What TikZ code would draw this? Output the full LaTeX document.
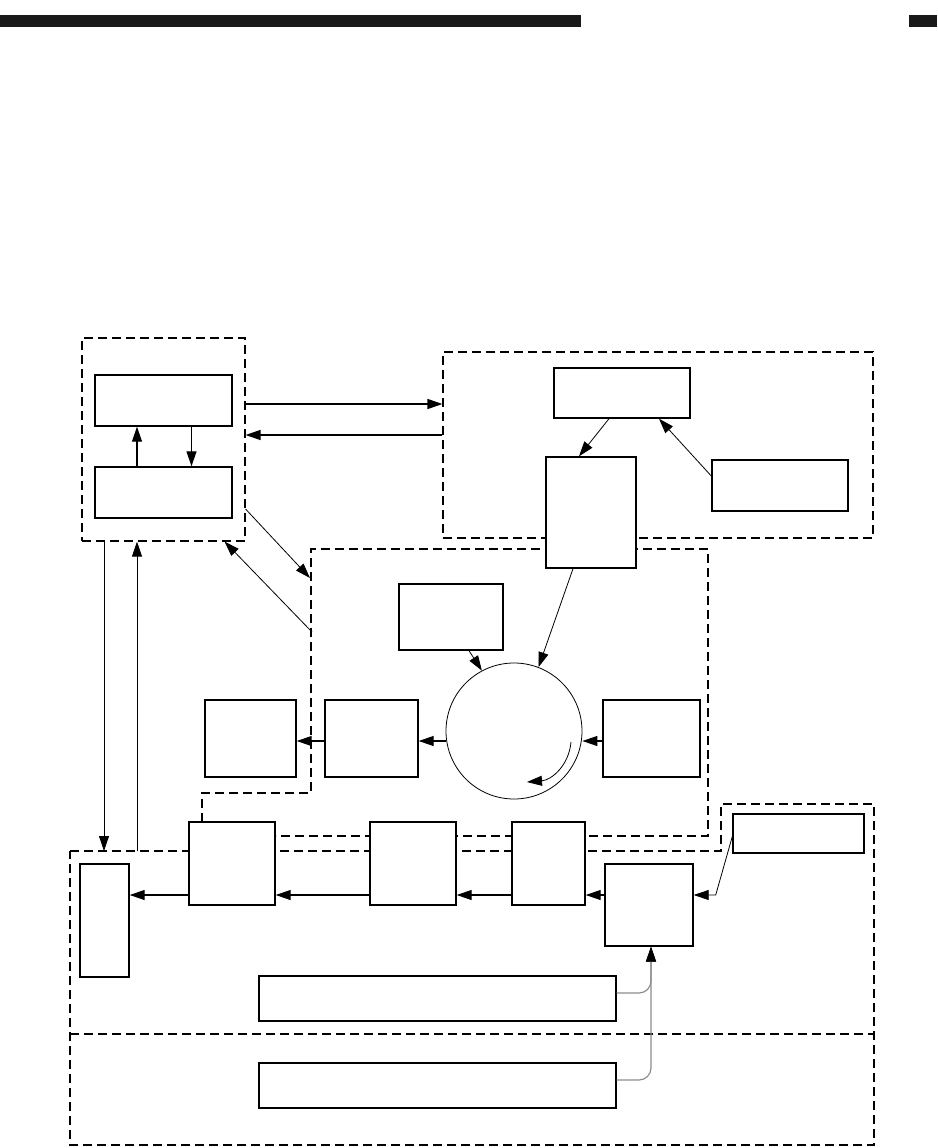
\documentclass[tikz,border=0pt]{standalone}
\usetikzlibrary{arrows.meta,positioning}
\tikzset{
  blk/.style={draw,line width=1.4pt,fill=white,inner sep=0pt},
  grp/.style={draw,line width=1.1pt,dash pattern=on 9pt off 5pt},
  arr/.style={-{Triangle[length=15pt,width=10pt]},line width=1.2pt},
  thin arr/.style={-{Triangle[length=15pt,width=10pt]},line width=0.8pt},
  feed/.style={-{Triangle[length=15pt,width=10pt,color=black]},line width=1.2pt,
    draw=black!45,rounded corners=12pt}
}
\begin{document}
\begin{tikzpicture}[x=1pt,y=-1pt]
  \useasboundingbox (0,0) rectangle (937,1148);
  % Header bars
  \fill[black!90] (0,15) rectangle (581,27);
  \fill[black!90] (909,15) rectangle (937,27);

  % Dashed groups
  \node[grp,minimum width=163pt,minimum height=203pt] (grpL) at (163.5,439.5) {};
  \node[grp,minimum width=430pt,minimum height=186pt] (grpR) at (658,445) {};
  \draw[grp] (202,822) -- (202,793) -- (311,793) -- (311,549) -- (708,549)
    -- (708,836) -- (276,836);
  \draw[grp] (70,851) -- (721,851) -- (721,804) -- (874,804) -- (874,1145)
    -- (70,1145) -- cycle;
  \draw[grp] (70,1034) -- (874,1034);

  % Left group
  \node[blk,minimum width=137pt,minimum height=51pt] (ctrA) at (163.5,400.5) {};
  \node[blk,minimum width=137pt,minimum height=51pt] (ctrB) at (163.5,492.5) {};
  % Upper right group
  \node[blk,minimum width=136pt,minimum height=50pt] (srcC) at (622,393) {};
  \node[blk,minimum width=90pt,minimum height=111pt] (srcD) at (591,512.5) {};
  \node[blk,minimum width=136pt,minimum height=51pt] (srcE) at (780,485.5) {};
  % Drum group
  \node[draw,circle,line width=0.8pt,minimum size=136pt] (drum) at (514,731) {};
  \node[blk,minimum width=104pt,minimum height=66pt] (drmS) at (451,617) {};
  \node[blk,minimum width=91pt,minimum height=77pt] (drmP) at (250.5,738.5) {};
  \node[blk,minimum width=93pt,minimum height=77pt] (drmQ) at (371.5,738.5) {};
  \node[blk,minimum width=97pt,minimum height=77pt] (drmR) at (651.5,738.5) {};
  % Lower group
  \node[blk,minimum width=49pt,minimum height=113pt] (outT) at (104.5,920.5) {};
  \node[blk,minimum width=86pt,minimum height=83pt] (outF) at (232,863.5) {};
  \node[blk,minimum width=86pt,minimum height=83pt] (outG) at (413,863.5) {};
  \node[blk,minimum width=73pt,minimum height=83pt] (outH) at (548.5,863.5) {};
  \node[blk,minimum width=88pt,minimum height=82pt] (outI) at (649,905) {};
  \node[blk,minimum width=131pt,minimum height=39pt] (outJ) at (798.5,833.5) {};
  \node[blk,minimum width=357pt,minimum height=45pt] (outK) at (437.5,998.5) {};
  \node[blk,minimum width=357pt,minimum height=45pt] (outL) at (437.5,1085.5) {};

  \coordinate (rowA) at (0,741);
  \coordinate (rowB) at (0,895);
  \coordinate (m1) at (310,578);
  \coordinate (m2) at (312,632);
  \coordinate (b1) at (104,851);
  \coordinate (b2) at (137,851);

  % Connectors, left group
  \draw[arr] ([xshift=-26.5pt]ctrB.north) -- ([xshift=-26.5pt]ctrA.south);
  \draw[arr] ([xshift=28pt]ctrA.south) -- ([xshift=28pt]ctrB.north);
  \draw[arr] ([yshift=35.5pt]grpL.east) -- ([yshift=35.5pt]grpL.east -| grpR.west);
  \draw[arr] ([yshift=4.5pt]grpL.east -| grpR.west) -- ([yshift=4.5pt]grpL.east);
  \draw[thin arr] ([yshift=-69.5pt]grpL.east) -- (m1);
  \draw[thin arr] (m2) -- ([xshift=-21pt]grpL.south east);
  \draw[thin arr] (grpL.south -| b1) -- (b1);
  \draw[thin arr] (b2) -- (grpL.south -| b2);
  % Connectors, upper right
  \draw[thin arr] ([xshift=-13pt]srcC.south) -- ([xshift=-12pt]srcD.north);
  \draw[thin arr] ([yshift=9.5pt]srcE.west) -- ([xshift=37pt]srcC.south);
  \draw[thin arr] ([xshift=-18pt]srcD.south) -- (drum.69);
  \draw[thin arr] ([xshift=18pt]drmS.south) -- (drum.118);
  % Connectors, drum row
  \draw[arr] (drmR.west |- rowA) -- (drum.east |- rowA);
  \draw[arr] (drum.west |- rowA) -- (drmQ.east |- rowA);
  \draw[arr] (drmQ.west |- rowA) -- (drmP.east |- rowA);
  \draw[thin arr] (571,742) .. controls (569,765) and (552,780) .. (527,782);
  % Connectors, lower row
  \draw[thin arr] ([yshift=-3pt]outJ.west) -- ([xshift=22pt,yshift=10pt]outI.east)
    -- ([yshift=10pt]outI.east);
  \draw[arr] (outI.west |- rowB) -- (outH.east |- rowB);
  \draw[arr] (outH.west |- rowB) -- (outG.east |- rowB);
  \draw[arr] (outG.west |- rowB) -- (outF.east |- rowB);
  \draw[arr] (outF.west |- rowB) -- (outT.east |- rowB);
  \draw[feed] ([yshift=5.5pt]outL.east) -| ([xshift=2pt]outI.south);
  \draw[feed] ([yshift=5.5pt]outK.east) -| ([xshift=2pt]outI.south);
\end{tikzpicture}
\end{document}
